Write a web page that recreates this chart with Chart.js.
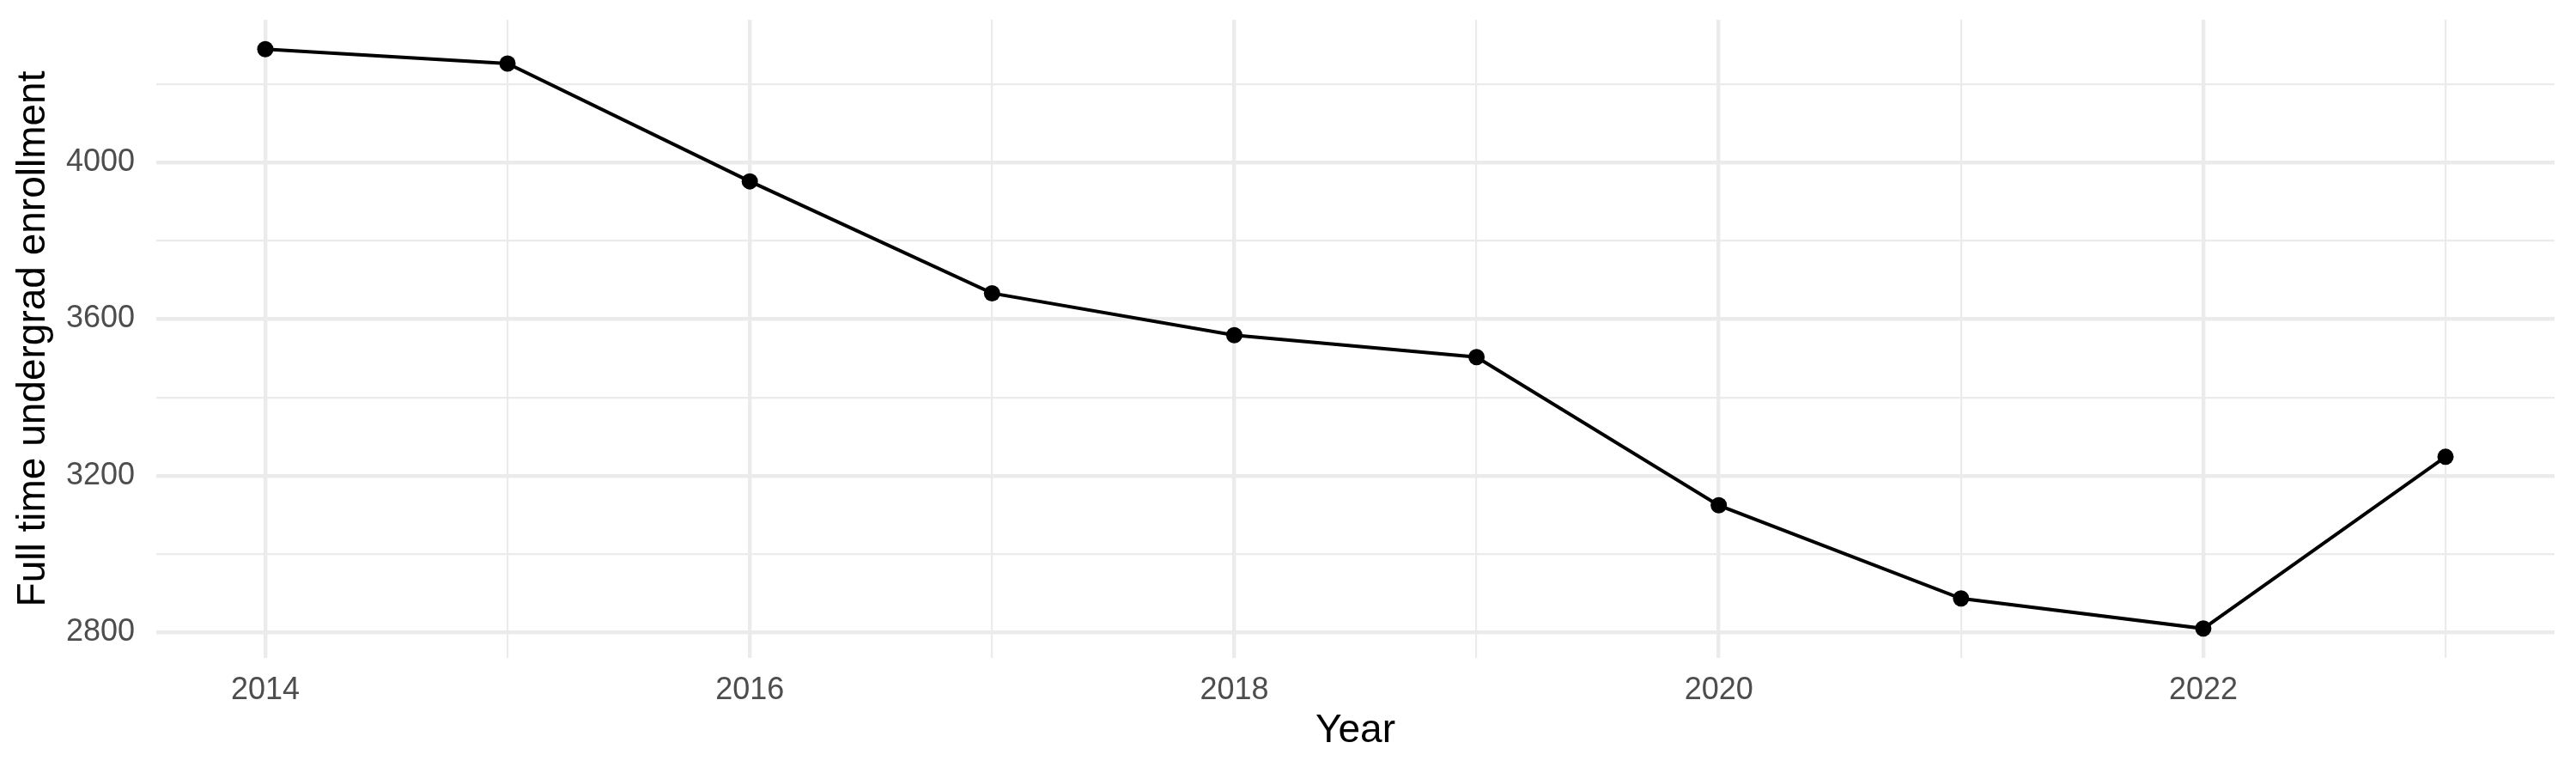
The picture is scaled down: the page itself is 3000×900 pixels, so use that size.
<!DOCTYPE html>
<html>
<head>
<meta charset="utf-8">
<title>Full time undergrad enrollment</title>
<script src="https://cdn.jsdelivr.net/npm/chart.js@4/dist/chart.umd.min.js"></script>
<style>
  html, body { margin: 0; padding: 0; background: #ffffff; }
  canvas { display: block; }
</style>
</head>
<body>
<canvas id="myChart" width="3000" height="900" style="width:3000px;height:900px"></canvas>
<script>
// data
var years = [2014, 2015, 2016, 2017, 2018, 2019, 2020, 2021, 2022, 2023];
var enrollment = [4290, 4253, 3952, 3666, 3559, 3503, 3124, 2886, 2809, 3248];

// ticks: major ones carry a label, minor ones are blank
var xTickValues = [2014, 2015, 2016, 2017, 2018, 2019, 2020, 2021, 2022, 2023];
var xTickLabels = ['2014', '', '2016', '', '2018', '', '2020', '', '2022', ''];
var yTickValues = [2800, 3000, 3200, 3400, 3600, 3800, 4000, 4200];
var yTickLabels = ['2800', '', '3200', '', '3600', '', '4000', ''];

var gridColor = '#EBEBEB';
var fontName = "'Liberation Sans', Arial, Helvetica, sans-serif";

function tickWidth(values, labels) {
  return function(c) {
    var i = values.indexOf(c.tick ? c.tick.value : NaN);
    return (i >= 0 && labels[i] !== '') ? 4.4 : 2.2;
  };
}

var points = years.map(function(y, i) { return { x: y, y: enrollment[i] }; });

var ctx = document.getElementById('myChart').getContext('2d');
var myChart = new Chart(ctx, {
  type: 'line',
  data: {
    datasets: [{
      label: 'Enrollment',
      data: points,
      borderColor: '#000000',
      backgroundColor: '#000000',
      borderWidth: 4,
      pointRadius: 9.5,
      pointBorderWidth: 0,
      pointBackgroundColor: '#000000',
      tension: 0,
      fill: false
    }]
  },
  options: {
    responsive: false,
    devicePixelRatio: 1,
    animation: false,
    layout: { autoPadding: false, padding: { top: 23, right: 25, left: 0, bottom: 0 } },
    plugins: {
      legend: { display: false },
      tooltip: { enabled: false }
    },
    scales: {
      x: {
        type: 'linear',
        min: 2013.55,
        max: 2023.45,
        afterBuildTicks: function(scale) {
          scale.ticks = xTickValues.map(function(v) { return { value: v }; });
        },
        afterFit: function(scale) {
          scale.height = 134;
          scale.paddingLeft = 0;
          scale.paddingRight = 0;
        },
        border: { display: false },
        grid: {
          color: gridColor,
          lineWidth: tickWidth(xTickValues, xTickLabels),
          drawTicks: false
        },
        ticks: {
          autoSkip: false,
          maxRotation: 0,
          padding: 16,
          color: '#4D4D4D',
          font: { family: fontName, size: 36 },
          callback: function(value) {
            var i = xTickValues.indexOf(value);
            return i >= 0 ? xTickLabels[i] : '';
          }
        },
        title: {
          display: true,
          text: 'Year',
          color: '#000000',
          font: { family: fontName, size: 46 },
          padding: { top: 0, bottom: 21 }
        }
      },
      y: {
        type: 'linear',
        min: 2734,
        max: 4365,
        afterBuildTicks: function(scale) {
          scale.ticks = yTickValues.map(function(v) { return { value: v }; });
        },
        afterFit: function(scale) {
          scale.width = 182;
          scale.paddingTop = 0;
          scale.paddingBottom = 0;
        },
        border: { display: false },
        grid: {
          color: gridColor,
          lineWidth: tickWidth(yTickValues, yTickLabels),
          drawTicks: false
        },
        ticks: {
          autoSkip: false,
          padding: 25,
          color: '#4D4D4D',
          font: { family: fontName, size: 36 },
          callback: function(value) {
            var i = yTickValues.indexOf(value);
            return i >= 0 ? yTickLabels[i] : '';
          }
        },
        title: {
          display: true,
          text: 'Full time undergrad enrollment',
          color: '#000000',
          font: { family: fontName, size: 46 },
          padding: { top: 12, bottom: 0 }
        }
      }
    }
  }
});
</script>
</body>
</html>
